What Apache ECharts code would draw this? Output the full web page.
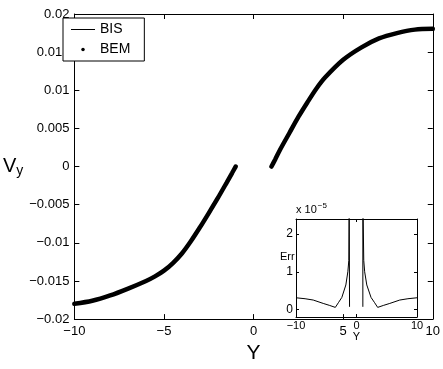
<!DOCTYPE html>
<html>
<head>
<meta charset="utf-8">
<script src="https://cdn.jsdelivr.net/npm/echarts@6/dist/echarts.min.js"></script>
<style>html,body{margin:0;padding:0;background:#fff}#c{width:443px;height:369px}</style>
</head>
<body>
<div id="c"></div>
<script>
// Main chart data: Y positions and V_y values (left branch Y<=-1, right branch Y>=1)
var yLeft  = [-10, -9, -8, -7, -6, -5.5, -5, -4.5, -4, -3.5, -3, -2.5, -2, -1.5, -1.2, -1];
var vLeft  = [-0.0180, -0.0176, -0.0169, -0.0160, -0.0150, -0.0144, -0.01365, -0.01265, -0.0114, -0.0098, -0.0080, -0.0061, -0.00415, -0.0021, -0.00085, 0];
var yRight = [1, 1.2, 1.5, 2, 2.5, 3, 3.5, 4, 5, 6, 7, 8, 9, 10];
var vRight = [0, 0.0009, 0.0023, 0.0044, 0.0065, 0.0084, 0.0102, 0.0117, 0.0140, 0.0156, 0.0168, 0.0175, 0.01795, 0.01805];
// Inset: Err (x 1e-5) vs Y
var errXLeft  = [-10, -8.5, -7.15, -5.5, -4.5, -3.5, -2.95, -2.42, -1.76, -1.43, -1.27, -1.21, -1.15, -1.15];
var errVLeft  = [0.31, 0.285, 0.25, 0.16, 0.11, 0.055, 0.19, 0.32, 0.65, 1.0, 1.3, 3.0, 3.0, 0.07];
var errXRight = [1.05, 1.05, 1.11, 1.2, 1.35, 1.7, 2.4, 2.95, 3.5, 4.5, 5.5, 7.15, 8.5, 10];
var errVRight = [0.07, 3.0, 3.0, 1.3, 1.0, 0.65, 0.32, 0.19, 0.055, 0.11, 0.16, 0.25, 0.285, 0.31];
var mainXTicks = [-10, -5, 0, 5, 10];
var insetXTicks = [-10, 0, 10];
var insetYTicks = [0, 1, 2];

function pairs(xs, vs) { return xs.map(function (x, i) { return [x, vs[i]]; }); }
var curve = pairs(yLeft, vLeft).concat([[0, null]]).concat(pairs(yRight, vRight));
var errCurve = pairs(errXLeft, errVLeft).concat([[0, null]]).concat(pairs(errXRight, errVRight));

var FONT = 'Liberation Sans, Arial, Helvetica, sans-serif';
function minus(v) { var s = String(parseFloat(Number(v).toFixed(6))); return s.replace('-', '\u2212'); }
var blackLine = { show: true, onZero: false, lineStyle: { color: '#000', width: 1 } };

var chart = echarts.init(document.getElementById('c'), null, { renderer: 'canvas' });
chart.setOption({
  animation: false,
  backgroundColor: '#fff',
  textStyle: { fontFamily: FONT },
  grid: [
    { left: 58, top: 14, right: 10, bottom: 37, show: false },
    { left: 296, top: 219, width: 121, height: 98, show: false }
  ],
  legend: {
    orient: 'vertical', left: 63, top: 18,
    backgroundColor: '#fff', borderColor: '#000', borderWidth: 1, borderRadius: 0,
    padding: [4, 14, 4, 8], itemGap: 5, itemWidth: 24, itemHeight: 3.5, itemTextGap: 12,
    textStyle: { fontFamily: FONT, fontSize: 14, color: '#000', lineHeight: 15 },
    data: [{ name: 'BIS', icon: 'path://M0,0H24V1H0Z' }, { name: 'BEM', icon: 'circle' }]
  },
  xAxis: [
    { type: 'value', gridIndex: 0, min: -10, max: 10, interval: 5, position: 'bottom',
      axisLine: blackLine, splitLine: { show: false },
      axisTick: { inside: true, length: 5, lineStyle: { color: '#000' } },
      axisLabel: { color: '#000', fontSize: 13, margin: 6, formatter: minus, customValues: mainXTicks },
      name: 'Y', nameLocation: 'middle', nameGap: 18, nameTextStyle: { fontSize: 21, color: '#000', fontFamily: FONT } },
    { type: 'value', gridIndex: 0, min: -10, max: 10, interval: 5, position: 'top',
      axisLine: blackLine, splitLine: { show: false },
      axisTick: { inside: true, length: 5, lineStyle: { color: '#000' } }, axisLabel: { show: false } },
    { type: 'value', gridIndex: 1, min: -10, max: 10, interval: 10, position: 'bottom', z: 10,
      axisLine: blackLine, splitLine: { show: false },
      axisTick: { inside: true, length: 3, lineStyle: { color: '#000' }, customValues: insetXTicks },
      axisLabel: { color: '#000', fontSize: 11, margin: 3, formatter: minus, customValues: insetXTicks },
      name: 'Y', nameLocation: 'middle', nameGap: 14, nameTextStyle: { fontSize: 11, color: '#000', fontFamily: FONT } },
    { type: 'value', gridIndex: 1, min: -10, max: 10, interval: 10, position: 'top', z: 10,
      axisLine: blackLine, splitLine: { show: false },
      axisTick: { inside: true, length: 3, lineStyle: { color: '#000' } }, axisLabel: { show: false } }
  ],
  yAxis: [
    { type: 'value', gridIndex: 0, min: -0.02, max: 0.02, interval: 0.005, position: 'left',
      axisLine: blackLine, splitLine: { show: false },
      axisTick: { inside: true, length: 5, lineStyle: { color: '#000' } },
      axisLabel: { color: '#000', fontSize: 13, margin: 5, formatter: minus },
      name: '{v|V}{s|y}', nameLocation: 'middle', nameRotate: 0, nameGap: 31,
      nameTextStyle: { rich: { v: { fontSize: 20, color: '#000', fontFamily: FONT }, s: { fontSize: 14, color: '#000', fontFamily: FONT, verticalAlign: 'bottom', padding: [10, 0, 0, 0] } } } },
    { type: 'value', gridIndex: 0, min: -0.02, max: 0.02, interval: 0.005, position: 'right',
      axisLine: blackLine, splitLine: { show: false },
      axisTick: { inside: true, length: 5, lineStyle: { color: '#000' } }, axisLabel: { show: false } },
    { type: 'value', gridIndex: 1, min: -0.2, max: 2.4, position: 'left', z: 10,
      axisLine: blackLine, splitLine: { show: false },
      axisTick: { inside: true, length: 3, lineStyle: { color: '#000' }, customValues: insetYTicks },
      axisLabel: { color: '#000', fontSize: 12, margin: 3, customValues: insetYTicks },
      name: '{a|x 10}{b|\u22125}', nameLocation: 'end', nameGap: 1,
      nameTextStyle: { align: 'left', rich: { a: { fontSize: 11, color: '#000', fontFamily: FONT }, b: { fontSize: 8, color: '#000', fontFamily: FONT, verticalAlign: 'top', padding: [0, 0, 8, 1] } } } },
    { type: 'value', gridIndex: 1, min: -0.2, max: 2.4, position: 'right', z: 10,
      axisLine: blackLine, splitLine: { show: false },
      axisTick: { inside: true, length: 3, lineStyle: { color: '#000' }, customValues: insetYTicks }, axisLabel: { show: false } }
  ],
  graphic: [
    { type: 'text', left: 280, top: 251, z: 100, style: { text: 'Err', font: '11px ' + FONT, fill: '#000' } }
  ],
  series: [
    { name: 'BIS', type: 'line', xAxisIndex: 0, yAxisIndex: 0, data: curve, symbol: 'none', smooth: 0.3,
      connectNulls: false, lineStyle: { color: '#000', width: 1 }, itemStyle: { color: '#000' }, z: 3 },
    { name: 'BEM', type: 'line', xAxisIndex: 0, yAxisIndex: 0, data: curve, symbol: 'circle', symbolSize: 4, showSymbol: false, smooth: 0.3,
      connectNulls: false, lineStyle: { color: '#000', width: 4.5, cap: 'round' }, itemStyle: { color: '#000' }, z: 2 },
    { name: 'Err', type: 'line', xAxisIndex: 2, yAxisIndex: 2, data: errCurve, symbol: 'none', clip: true,
      connectNulls: false, lineStyle: { color: '#000', width: 1 }, z: 10 }
  ]
});
</script>
</body>
</html>
